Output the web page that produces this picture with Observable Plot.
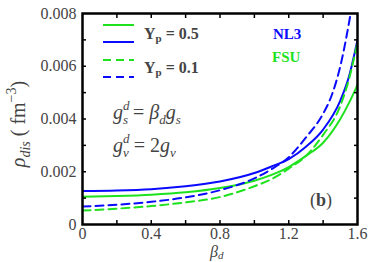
<!DOCTYPE html>
<html>
<head>
<meta charset="utf-8">
<script src="https://cdn.jsdelivr.net/npm/d3@7"></script>
<script src="https://cdn.jsdelivr.net/npm/@observablehq/plot@0.6"></script>
<style>
  html, body { margin: 0; padding: 0; background: #fff; }
  #chart { position: relative; width: 374px; height: 262px; }
  #chart svg text { font-family: "Liberation Serif", "DejaVu Serif", serif; }
</style>
</head>
<body>
<div id="chart"></div>
<script>
// beta_d sample points
const betaNL3a = [0, 0.2, 0.4, 0.6, 0.8, 1.0, 1.1, 1.2, 1.3, 1.4, 1.5, 1.55, 1.6];
const rhoNL3Yp05 = [0.00127, 0.00129, 0.00134, 0.00145, 0.00163, 0.00195, 0.0022, 0.00248, 0.00295, 0.0036, 0.0047, 0.0056, 0.0070];

const betaNL3b = [0, 0.2, 0.4, 0.6, 0.8, 1.0, 1.1, 1.2, 1.3, 1.4, 1.45, 1.5, 1.56, 1.6];
const rhoNL3Yp01 = [0.00068, 0.00075, 0.00086, 0.00103, 0.0013, 0.00175, 0.0021, 0.00255, 0.0033, 0.0042, 0.0049, 0.006, 0.0080, 0.0096];

const betaFSUa = [0, 0.2, 0.4, 0.6, 0.8, 1.0, 1.1, 1.2, 1.3, 1.4, 1.5, 1.55, 1.6];
const rhoFSUYp05 = [0.00105, 0.00108, 0.00113, 0.00122, 0.00138, 0.00166, 0.00188, 0.00218, 0.0026, 0.0031, 0.0040, 0.0046, 0.0053];

const betaFSUb = [0, 0.2, 0.4, 0.6, 0.8, 1.0, 1.1, 1.2, 1.3, 1.4, 1.5, 1.55, 1.6];
const rhoFSUYp01 = [0.00053, 0.0006, 0.0007, 0.00084, 0.00104, 0.00145, 0.00172, 0.00212, 0.0026, 0.0034, 0.0045, 0.0055, 0.0069];

const xLabelTicks = [0, 0.4, 0.8, 1.2, 1.6];
const xMinorTicks = [0.2, 0.4, 0.6, 0.8, 1.0, 1.2, 1.4];
const yLabelTicks = [0, 0.002, 0.004, 0.006, 0.008];
const yMinorTicks = [0.001, 0.002, 0.003, 0.004, 0.005, 0.006, 0.007];

const BLUE = "#0a0aff";
const GREEN = "#1ee21e";
const GRAY = "#444";
const SERIF = "Liberation Serif, DejaVu Serif, serif";

const series = [
  {name: "NL3 0.5", xs: betaNL3a, ys: rhoNL3Yp05, color: BLUE, dash: null},
  {name: "FSU 0.5", xs: betaFSUa, ys: rhoFSUYp05, color: GREEN, dash: null},
  {name: "NL3 0.1", xs: betaNL3b, ys: rhoNL3Yp01, color: BLUE, dash: "8,5"},
  {name: "FSU 0.1", xs: betaFSUb, ys: rhoFSUYp01, color: GREEN, dash: "8,5"}
];

const lineMarks = series.map(s => Plot.line(s.xs.map((x, i) => ({x, y: s.ys[i]})), {
  x: "x", y: "y", stroke: s.color, strokeWidth: 2, strokeDasharray: s.dash,
  curve: "monotone-x", clip: true
}));

const plot = Plot.plot({
  width: 374, height: 262,
  marginLeft: 82, marginRight: 17, marginTop: 13, marginBottom: 38,
  style: {fontFamily: SERIF, background: "white", overflow: "visible"},
  x: {domain: [0, 1.6]},
  y: {domain: [0, 0.008]},
  marks: [
    ...lineMarks,
    Plot.axisX({anchor: "bottom", ticks: xMinorTicks, tickSize: -4, tickFormat: () => "", label: null, strokeWidth: 1.5}),
    Plot.axisX({anchor: "top", ticks: xMinorTicks, tickSize: -4, tickFormat: () => "", label: null, strokeWidth: 1.5}),
    Plot.axisY({anchor: "left", ticks: yMinorTicks, tickSize: -4, tickFormat: () => "", label: null, strokeWidth: 1.5}),
    Plot.axisY({anchor: "right", ticks: yMinorTicks, tickSize: -4, tickFormat: () => "", label: null, strokeWidth: 1.5}),
    Plot.axisX({anchor: "bottom", ticks: xLabelTicks, tickSize: 0, tickPadding: 3, fontSize: 16, fill: GRAY,
      tickFormat: d => d === 0 ? "0" : d.toFixed(1), label: null}),
    Plot.axisY({anchor: "left", ticks: yLabelTicks, tickSize: 0, tickPadding: 6, fontSize: 16, fill: GRAY,
      tickFormat: d => d === 0 ? "0" : d.toFixed(3), label: null}),
    Plot.frame({stroke: "black", strokeWidth: 2.5})
  ]
});

document.getElementById("chart").appendChild(plot);

// Annotations, legend and axis titles
const svg = d3.select(plot);
const g = svg.append("g").attr("font-family", SERIF).attr("text-anchor", "start");

// Legend swatches
const legend = [
  {y: 25, color: GREEN, dash: null},
  {y: 42, color: BLUE, dash: null},
  {y: 60, color: GREEN, dash: "8,5"},
  {y: 77, color: BLUE, dash: "8,5"}
];
legend.forEach(l => {
  g.append("line").attr("x1", 103).attr("x2", 134).attr("y1", l.y).attr("y2", l.y)
    .attr("stroke", l.color).attr("stroke-width", 2)
    .attr("stroke-dasharray", l.dash);
});

function ypText(y, val) {
  const t = g.append("text").attr("x", 144).attr("y", y).attr("fill", GRAY)
    .attr("font-size", 16).attr("font-weight", "bold");
  t.append("tspan").text("Y");
  t.append("tspan").attr("font-size", 11).attr("dy", 3).text("p");
  t.append("tspan").attr("dy", -3).text(" = " + val);
}
ypText(39, "0.5");
ypText(73, "0.1");

g.append("text").attr("x", 273).attr("y", 39).attr("fill", BLUE)
  .attr("font-size", 15).attr("font-weight", "bold").text("NL3");
g.append("text").attr("x", 272).attr("y", 62).attr("fill", GREEN)
  .attr("font-size", 15).attr("font-weight", "bold").text("FSU");

// Equations
function gsup(t, sub) {
  t.append("tspan").attr("font-style", "italic").text("g");
  t.append("tspan").attr("font-style", "italic").attr("font-size", 13).attr("dy", -9).text("d");
  t.append("tspan").attr("font-style", "italic").attr("font-size", 13).attr("dx", -6.5).attr("dy", 14).text(sub);
  t.append("tspan").attr("dy", -5).text(" = ");
}
const eq1 = g.append("text").attr("x", 113).attr("y", 119).attr("fill", GRAY).attr("font-size", 20);
gsup(eq1, "s");
eq1.append("tspan").attr("font-style", "italic").text("β");
eq1.append("tspan").attr("font-style", "italic").attr("font-size", 13).attr("dy", 5).text("d");
eq1.append("tspan").attr("font-style", "italic").attr("dy", -5).text("g");
eq1.append("tspan").attr("font-style", "italic").attr("font-size", 13).attr("dy", 5).text("s");

const eq2 = g.append("text").attr("x", 113).attr("y", 152).attr("fill", GRAY).attr("font-size", 20);
gsup(eq2, "v");
eq2.append("tspan").text("2");
eq2.append("tspan").attr("font-style", "italic").text("g");
eq2.append("tspan").attr("font-style", "italic").attr("font-size", 13).attr("dy", 5).text("v");

// (b)
const pb = g.append("text").attr("x", 310).attr("y", 206).attr("fill", GRAY).attr("font-size", 18);
pb.append("tspan").text("(");
pb.append("tspan").attr("font-weight", "bold").text("b");
pb.append("tspan").text(")");

// X axis title
const xt = g.append("text").attr("x", 210).attr("y", 256.5).attr("fill", GRAY).attr("font-size", 16);
xt.append("tspan").attr("font-style", "italic").text("β");
xt.append("tspan").attr("font-style", "italic").attr("font-size", 11).attr("dy", 2.5).text("d");

// Y axis title
const yt = g.append("text").attr("transform", "translate(25,124) rotate(-90)")
  .attr("text-anchor", "middle").attr("fill", GRAY).attr("font-size", 20);
yt.append("tspan").attr("font-style", "italic").text("ρ");
yt.append("tspan").attr("font-style", "italic").attr("font-size", 14).attr("dy", 5).text("dis");
yt.append("tspan").attr("dy", -5).text(" ( fm");
yt.append("tspan").attr("font-size", 14).attr("dy", -9).text("−3");
yt.append("tspan").attr("dy", 9).text(")");
</script>
</body>
</html>
